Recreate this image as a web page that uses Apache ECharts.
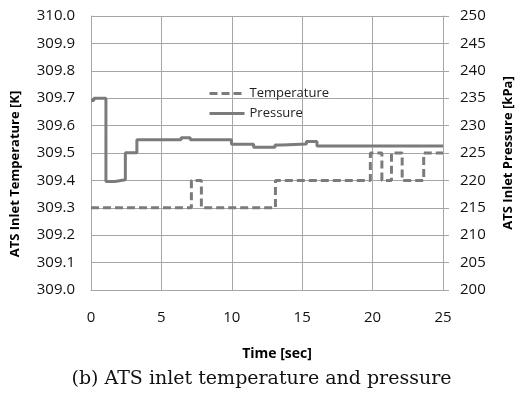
<!DOCTYPE html>
<html>
<head>
<meta charset="utf-8">
<script src="https://cdn.jsdelivr.net/npm/echarts@6/dist/echarts.min.js"></script>
<style>
  html, body { margin: 0; padding: 0; background: #fff; }
  #chart { width: 523px; height: 395px; }
</style>
</head>
<body>
<div id="chart"></div>
<script>
// step points: [time, value] - value changes at that time
const tempTimes = [0, 7.13, 7.84, 13.1, 19.84, 20.66, 21.34, 22.1, 23.63, 25];
const tempValues = [309.3, 309.4, 309.3, 309.4, 309.5, 309.4, 309.5, 309.4, 309.5, 309.5];
const presTimes = [0, 0.2, 1.06, 1.7, 2.44, 3.26, 6.4, 7.05, 9.98, 11.55, 13.07, 13.6, 15.3, 16.05, 25];
const presValues = [234.6, 235, 219.8, 220.1, 225.05, 227.4, 227.8, 227.4, 226.6, 226.05, 226.45, 226.65, 227.1, 226.3, 226.3];

const font = "'Open Sans', 'Noto Sans', sans-serif";
const gridColor = "#a6a6a6";
const lineColor = "#7b7b7b";

const chart = echarts.init(document.getElementById("chart"));
const option = {
  animation: false,
  textStyle: { fontFamily: font },
  grid: { left: 91, right: 77, top: 16, bottom: 105 },
  legend: {
    orient: "vertical",
    left: 203,
    top: 82,
    itemWidth: 35,
    itemHeight: 14,
    itemGap: 7,
    itemStyle: { opacity: 0 },
    lineStyle: { width: 3 },
    textStyle: { fontFamily: font, fontSize: 13, color: "#222" },
    data: ["Temperature", "Pressure"],
  },
  xAxis: {
    type: "value",
    min: 0,
    max: 25,
    interval: 5,
    name: "Time [sec]",
    nameLocation: "middle",
    nameGap: 57,
    nameTextStyle: { fontFamily: font, fontSize: 14, fontWeight: "bold", color: "#000", padding: [0, 0, 0, 20] },
    axisLine: { lineStyle: { color: gridColor } },
    axisTick: { show: false },
    axisLabel: { fontSize: 15, color: "#111", margin: 20 },
    splitLine: { show: true, lineStyle: { color: gridColor, width: 1 } },
  },
  yAxis: [
    {
      type: "value",
      min: 309,
      max: 310,
      interval: 0.1,
      name: "ATS Inlet Temperature [K]",
      nameLocation: "middle",
      nameGap: 69,
      nameTextStyle: { fontFamily: font, fontSize: 13, fontWeight: "bold", color: "#000", padding: [0, 42, 0, 0] },
      axisLine: { show: true, lineStyle: { color: gridColor } },
      axisTick: { show: false },
      axisLabel: { fontSize: 15, color: "#111", margin: 16, formatter: (v) => v.toFixed(1) },
      splitLine: { show: true, lineStyle: { color: gridColor, width: 1 } },
    },
    {
      type: "value",
      min: 200,
      max: 250,
      interval: 5,
      name: "ATS Inlet Pressure [kPa]",
      nameLocation: "middle",
      nameGap: 59,
      nameTextStyle: { fontFamily: font, fontSize: 13, fontWeight: "bold", color: "#000" },
      axisLine: { show: true, lineStyle: { color: gridColor } },
      axisTick: { show: true, length: 6, lineStyle: { color: gridColor } },
      axisLabel: { fontSize: 15, color: "#111", margin: 17 },
      splitLine: { show: false },
    },
  ],
  series: [
    {
      name: "Temperature",
      type: "line",
      step: "end",
      yAxisIndex: 0,
      symbol: "none",
      lineStyle: { color: lineColor, width: 3, type: [8, 4] },
      itemStyle: { color: lineColor },
      data: tempTimes.map((t, i) => [t, tempValues[i]]),
    },
    {
      name: "Pressure",
      type: "line",
      step: "end",
      yAxisIndex: 1,
      symbol: "none",
      lineStyle: { color: lineColor, width: 3 },
      itemStyle: { color: lineColor },
      data: presTimes.map((t, i) => [t, presValues[i]]),
    },
  ],
  graphic: [
    {
      type: "text",
      left: "center",
      top: 370,
      style: {
        text: "(b) ATS inlet temperature and pressure",
        fontFamily: "'DejaVu Serif', serif",
        fontSize: 19,
        fill: "#111",
      },
    },
  ],
};
chart.setOption(option);
</script>
</body>
</html>
